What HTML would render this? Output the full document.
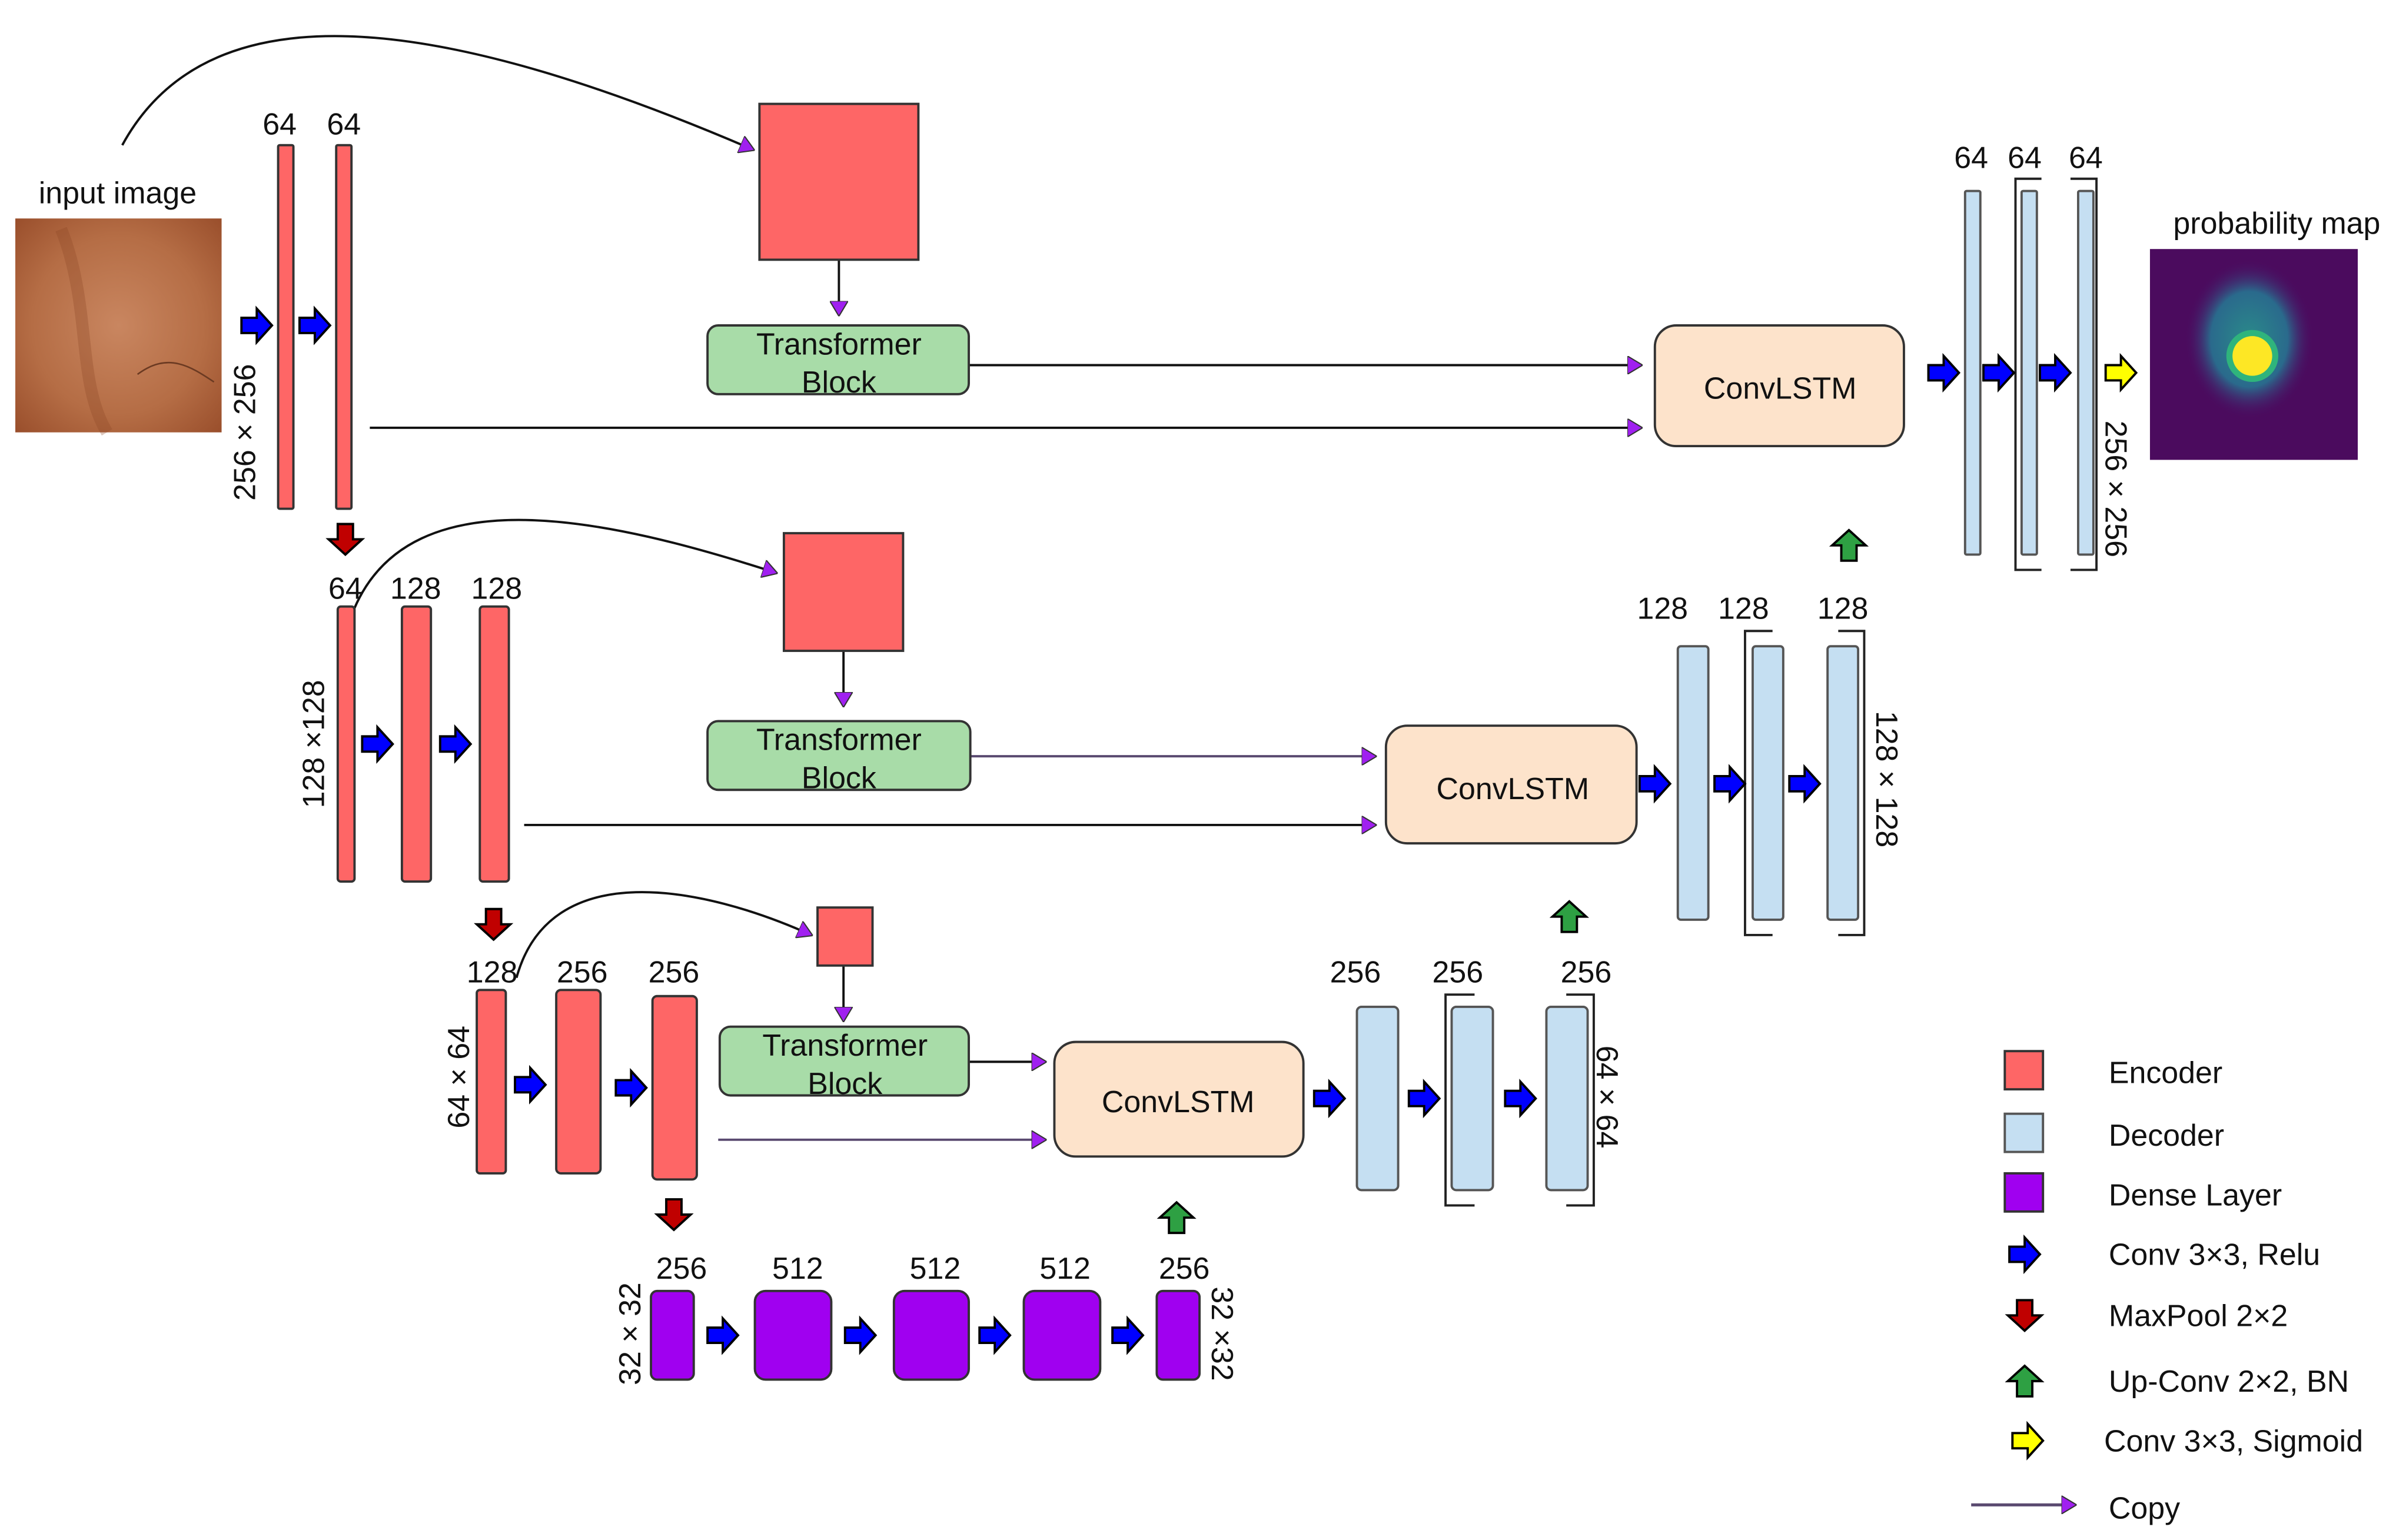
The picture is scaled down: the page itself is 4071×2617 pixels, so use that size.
<!DOCTYPE html>
<html><head><meta charset="utf-8"><style>html,body{margin:0;padding:0;background:#fff}svg{display:block}text{font-family:"Liberation Sans",sans-serif;font-size:20px;fill:#111}</style></head><body>
<svg width="4071" height="2617" viewBox="0 0 1568 1008" xmlns="http://www.w3.org/2000/svg">
<defs>
<path id="ar" d="M-10,-5 H0 V-11 L10,0 L0,11 V5 H-10 Z" stroke="#000" stroke-width="1.5"/>
<radialGradient id="skin" cx="0.5" cy="0.5" r="0.7"><stop offset="0" stop-color="#c98660"/><stop offset="0.6" stop-color="#b56d45"/><stop offset="1" stop-color="#9a4f2c"/></radialGradient>
<radialGradient id="blob" cx="0.5" cy="0.5" r="0.5"><stop offset="0" stop-color="#2a8a8a"/><stop offset="0.6" stop-color="#2a6a8c"/><stop offset="1" stop-color="#4a0e63" stop-opacity="0"/></radialGradient>
<marker id="pm" markerWidth="10" markerHeight="12" refX="9" refY="6" orient="auto" markerUnits="userSpaceOnUse"><path d="M0,0 L10,6 L0,12 Z" fill="#a020f0" stroke="#333" stroke-width="0.8"/></marker>
</defs>
<g fill="none" stroke="#111" stroke-width="1.5">
<path d="M80,95 C140,-15 300,15 493,98" marker-end="url(#pm)"/>
<path d="M232,398 C270,310 400,340 508,375" marker-end="url(#pm)"/>
<path d="M338,640 C360,560 460,580 531,612" marker-end="url(#pm)"/>
<path d="M549,170 V206" marker-end="url(#pm)"/>
<path d="M552,426 V462" marker-end="url(#pm)"/>
<path d="M552,632 V668" marker-end="url(#pm)"/>
<path d="M634,239 H1074" marker-end="url(#pm)"/>
<path d="M242,280 H1074" marker-end="url(#pm)"/>
<path d="M635,495 H900" stroke="#5a4a70" marker-end="url(#pm)"/>
<path d="M343,540 H900" marker-end="url(#pm)"/>
<path d="M634,695 H684" marker-end="url(#pm)"/>
<path d="M470,746 H684" stroke="#5a4a70" marker-end="url(#pm)"/>
<path d="M1290,985 H1358" stroke="#5a4a70" stroke-width="2" marker-end="url(#pm)"/>
</g>
<text x="77" y="133" text-anchor="middle">input image</text>
<rect x="10" y="143" width="135" height="140" fill="url(#skin)"/>
<path d="M40,150 C60,200 50,250 70,283" stroke="#8a4526" stroke-width="8" fill="none" opacity="0.3"/>
<path d="M90,245 C110,230 125,240 140,250" stroke="#6b3a22" stroke-width="1" fill="none"/>
<text x="1490" y="153" text-anchor="middle">probability map</text>
<rect x="1407" y="163" width="136" height="138" fill="#4b0b5e"/>
<ellipse cx="1472" cy="222" rx="42" ry="52" fill="url(#blob)"/>
<circle cx="1474" cy="233" r="17" fill="#2fb47c"/>
<circle cx="1474" cy="233" r="13" fill="#fde725"/>
<g fill="#fe6666" stroke="#333" stroke-width="1.5">
<rect x="182" y="95" width="10" height="238" rx="1"/><rect x="220" y="95" width="10" height="238" rx="1"/>
<rect x="221" y="397" width="11" height="180" rx="2"/><rect x="263" y="397" width="19" height="180" rx="2"/><rect x="314" y="397" width="19" height="180" rx="2"/>
<rect x="312" y="648" width="19" height="120" rx="2"/><rect x="364" y="648" width="29" height="120" rx="3"/><rect x="427" y="652" width="29" height="120" rx="3"/>
<rect x="497" y="68" width="104" height="102"/><rect x="513" y="349" width="78" height="77"/><rect x="535" y="594" width="36" height="38"/>
<rect x="1312" y="688" width="25" height="25"/>
</g>
<g fill="#c5dff2" stroke="#555" stroke-width="1.5">
<rect x="1286" y="125" width="10" height="238" rx="1"/><rect x="1323" y="125" width="10" height="238" rx="1"/><rect x="1360" y="125" width="10" height="238" rx="1"/>
<rect x="1098" y="423" width="20" height="179" rx="2"/><rect x="1147" y="423" width="20" height="179" rx="2"/><rect x="1196" y="423" width="20" height="179" rx="2"/>
<rect x="888" y="659" width="27" height="120" rx="3"/><rect x="950" y="659" width="27" height="120" rx="3"/><rect x="1012" y="659" width="27" height="120" rx="3"/>
<rect x="1312" y="729" width="25" height="25"/>
</g>
<g fill="none" stroke="#222" stroke-width="1.5">
<path d="M1336,117 H1319 V373 H1336"/><path d="M1355,117 H1372 V373 H1355"/>
<path d="M1160,413 H1142 V612 H1160"/><path d="M1203,413 H1220 V612 H1203"/>
<path d="M965,651 H946 V789 H965"/><path d="M1025,651 H1043 V789 H1025"/>
</g>
<g fill="#a000f0" stroke="#333" stroke-width="1.5">
<rect x="426" y="845" width="28" height="58" rx="4"/><rect x="494" y="845" width="50" height="58" rx="7"/><rect x="585" y="845" width="49" height="58" rx="7"/><rect x="670" y="845" width="50" height="58" rx="7"/><rect x="757" y="845" width="28" height="58" rx="4"/>
<rect x="1312" y="768" width="25" height="25"/>
</g>
<g fill="#a8dca8" stroke="#333" stroke-width="1.5">
<rect x="463" y="213" width="171" height="45" rx="7"/><rect x="463" y="472" width="172" height="45" rx="7"/><rect x="471" y="672" width="163" height="45" rx="7"/>
</g>
<g fill="#fde3cb" stroke="#333" stroke-width="1.5">
<rect x="1083" y="213" width="163" height="79" rx="14"/><rect x="907" y="475" width="164" height="77" rx="14"/><rect x="690" y="682" width="163" height="75" rx="14"/>
</g>
<g text-anchor="middle">
<text x="549" y="232">Transformer</text><text x="549" y="257">Block</text>
<text x="549" y="491">Transformer</text><text x="549" y="516">Block</text>
<text x="553" y="691">Transformer</text><text x="553" y="716">Block</text>
<text x="1165" y="261" font-size="23">ConvLSTM</text><text x="990" y="523" font-size="23">ConvLSTM</text><text x="771" y="728" font-size="23">ConvLSTM</text>
<text x="183" y="88">64</text><text x="225" y="88">64</text>
<text x="226" y="392">64</text><text x="272" y="392">128</text><text x="325" y="392">128</text>
<text x="322" y="643">128</text><text x="381" y="643">256</text><text x="441" y="643">256</text>
<text x="1290" y="110">64</text><text x="1325" y="110">64</text><text x="1365" y="110">64</text>
<text x="1088" y="405">128</text><text x="1141" y="405">128</text><text x="1206" y="405">128</text>
<text x="887" y="643">256</text><text x="954" y="643">256</text><text x="1038" y="643">256</text>
<text x="446" y="837">256</text><text x="522" y="837">512</text><text x="612" y="837">512</text><text x="697" y="837">512</text><text x="775" y="837">256</text>
<text transform="translate(167,283) rotate(-90)">256 × 256</text>
<text transform="translate(212,487) rotate(-90)">128 ×128</text>
<text transform="translate(307,705) rotate(-90)">64 × 64</text>
<text transform="translate(419,873) rotate(-90)">32 × 32</text>
<text transform="translate(1378,320) rotate(90)">256 × 256</text>
<text transform="translate(1228,510) rotate(90)">128 × 128</text>
<text transform="translate(1045,718) rotate(90)">64 × 64</text>
<text transform="translate(793,873) rotate(90)">32 ×32</text>
</g>
<g fill="#0000ff">
<use href="#ar" x="168" y="213"/><use href="#ar" x="206" y="213"/>
<use href="#ar" x="247" y="487"/><use href="#ar" x="298" y="487"/>
<use href="#ar" x="347" y="710"/><use href="#ar" x="413" y="712"/>
<use href="#ar" x="1272" y="244"/><use href="#ar" x="1308" y="244"/><use href="#ar" x="1345" y="244"/>
<use href="#ar" x="1083" y="513"/><use href="#ar" x="1132" y="513"/><use href="#ar" x="1181" y="513"/>
<use href="#ar" x="870" y="719"/><use href="#ar" x="932" y="719"/><use href="#ar" x="995" y="719"/>
<use href="#ar" x="473" y="874"/><use href="#ar" x="563" y="874"/><use href="#ar" x="651" y="874"/><use href="#ar" x="738" y="874"/>
<use href="#ar" x="1325" y="821"/>
</g>
<use href="#ar" x="1388" y="244" fill="#ffff00"/><use href="#ar" x="1327" y="943" fill="#ffff00"/>
<g fill="#c00000"><use href="#ar" transform="translate(226,353) rotate(90)"/><use href="#ar" transform="translate(323,605) rotate(90)"/><use href="#ar" transform="translate(441,795) rotate(90)"/><use href="#ar" transform="translate(1325,861) rotate(90)"/></g>
<g fill="#2ea043"><use href="#ar" transform="translate(1210,357) rotate(-90)"/><use href="#ar" transform="translate(1027,600) rotate(-90)"/><use href="#ar" transform="translate(770,797) rotate(-90)"/><use href="#ar" transform="translate(1325,904) rotate(-90)"/></g>
<text x="1380" y="709">Encoder</text><text x="1380" y="750">Decoder</text><text x="1380" y="789">Dense Layer</text>
<text x="1380" y="828">Conv 3×3, Relu</text><text x="1380" y="868">MaxPool 2×2</text><text x="1380" y="911">Up-Conv 2×2, BN</text>
<text x="1377" y="950">Conv 3×3, Sigmoid</text><text x="1380" y="994">Copy</text>
</svg>
</body></html>
